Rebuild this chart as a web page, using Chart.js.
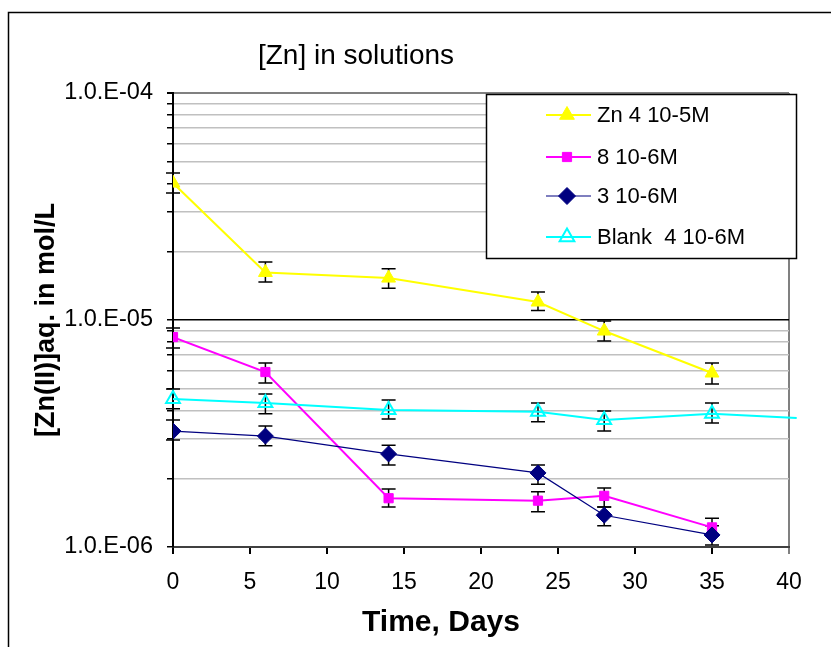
<!DOCTYPE html>
<html>
<head>
<meta charset="utf-8">
<script src="https://cdn.jsdelivr.net/npm/chart.js@4"></script>
<style>
  html, body { margin: 0; padding: 0; background: #fff; }
  canvas { display: block; }
</style>
</head>
<body>
<canvas id="zn" width="831" height="647"></canvas>
<script>
const days = [0, 6, 14, 23.7, 28, 35];
const blankDays = [0, 6, 14, 23.7, 28, 35, 40.5];

const zn4Values = [4.01e-5, 1.62e-5, 1.53e-5, 1.20e-5, 8.94e-6, 5.84e-6];
const zn4High = [4.44e-5, 1.80e-5, 1.68e-5, 1.33e-5, 9.9e-6, 6.46e-6];
const zn4Low = [3.63e-5, 1.47e-5, 1.38e-5, 1.10e-5, 8.08e-6, 5.22e-6];

const zn8Values = [8.41e-6, 5.90e-6, 1.64e-6, 1.60e-6, 1.68e-6, 1.22e-6];
const zn8High = [9.22e-6, 6.46e-6, 1.80e-6, 1.75e-6, 1.82e-6, 1.34e-6];
const zn8Low = [7.53e-6, 5.28e-6, 1.50e-6, 1.43e-6, 1.50e-6, 1.12e-6];

const zn3Values = [3.24e-6, 3.08e-6, 2.57e-6, 2.12e-6, 1.38e-6, 1.13e-6];
const zn3High = [3.63e-6, 3.41e-6, 2.81e-6, 2.30e-6, 1.50e-6, 1.24e-6];
const zn3Low = [2.96e-6, 2.79e-6, 2.30e-6, 1.89e-6, 1.24e-6, 1.02e-6];

const blankValues = [4.49e-6, 4.31e-6, 4.01e-6, 3.94e-6, 3.63e-6, 3.86e-6, 3.70e-6];
const blankHigh = [4.97e-6, 4.72e-6, 4.44e-6, 4.31e-6, 3.97e-6, 4.31e-6];
const blankLow = [4.06e-6, 3.86e-6, 3.66e-6, 3.56e-6, 3.24e-6, 3.52e-6];

const seriesLabels = ["Zn 4 10-5M", "8 10-6M", "3 10-6M", "Blank  4 10-6M"];
const yGridValues = [1e-6, 2e-6, 3e-6, 4e-6, 5e-6, 6e-6, 7e-6, 8e-6, 9e-6,
  1e-5, 2e-5, 3e-5, 4e-5, 5e-5, 6e-5, 7e-5, 8e-5, 9e-5, 1e-4];
const yDecades = [1e-6, 1e-5, 1e-4];
const yDecadeLabels = ["1.0.E-06", "1.0.E-05", "1.0.E-04"];
const xTicks = [0, 5, 10, 15, 20, 25, 30, 35, 40];

const FONT = "'Liberation Sans', Arial, sans-serif";
Chart.defaults.font.family = FONT;
Chart.defaults.color = "#000";

const errorSets = [
  { high: zn4High, low: zn4Low },
  { high: zn8High, low: zn8Low },
  { high: zn3High, low: zn3Low },
  { high: blankHigh, low: blankLow }
];

function points(xs, ys) {
  return ys.map((v, i) => ({ x: xs[i], y: v }));
}

const frame = {
  id: "frame",
  beforeDraw(chart) {
    const ctx = chart.ctx;
    ctx.save();
    ctx.fillStyle = "#fff";
    ctx.fillRect(0, 0, chart.width, chart.height);
    ctx.strokeStyle = "#000";
    ctx.lineWidth = 1.5;
    ctx.beginPath();
    ctx.moveTo(8.5, chart.height);
    ctx.lineTo(8.5, 12.5);
    ctx.lineTo(chart.width, 12.5);
    ctx.stroke();
    ctx.restore();
  }
};

const errorBars = {
  id: "errorBars",
  beforeDatasetsDraw(chart) {
    const { ctx, scales: { x, y } } = chart;
    ctx.save();
    ctx.strokeStyle = "#000";
    ctx.lineWidth = 1.5;
    errorSets.forEach((set) => {
      set.high.forEach((hi, i) => {
        const px = x.getPixelForValue(days[i]);
        const top = y.getPixelForValue(hi);
        const bot = y.getPixelForValue(set.low[i]);
        ctx.beginPath();
        ctx.moveTo(px, top); ctx.lineTo(px, bot);
        ctx.moveTo(px - 7, top); ctx.lineTo(px + 7, top);
        ctx.moveTo(px - 7, bot); ctx.lineTo(px + 7, bot);
        ctx.stroke();
      });
    });
    ctx.restore();
  }
};

const texts = {
  id: "texts",
  afterDraw(chart) {
    const { ctx, chartArea } = chart;
    ctx.save();
    ctx.fillStyle = "#000";
    ctx.textAlign = "center";
    ctx.textBaseline = "middle";
    ctx.font = "28px " + FONT;
    ctx.fillText("[Zn] in solutions", 356, 56);
    ctx.font = "bold 30px " + FONT;
    ctx.fillText("Time, Days", 441, 623);
    ctx.translate(47, (chartArea.top + chartArea.bottom) / 2);
    ctx.rotate(-Math.PI / 2);
    ctx.font = "bold 27px " + FONT;
    ctx.fillText("[Zn(II)]aq. in mol/L", 0, 0);
    ctx.restore();

    // legend box
    ctx.save();
    ctx.fillStyle = "#fff";
    ctx.fillRect(486, 94, 311, 165);
    ctx.strokeStyle = "#000";
    ctx.lineWidth = 1.5;
    ctx.strokeRect(486.5, 94.5, 310, 164);
    const rows = [115, 157, 196, 237];
    chart.data.datasets.forEach((ds, i) => {
      const ry = rows[i];
      ctx.strokeStyle = ds.borderColor;
      ctx.lineWidth = ds.borderWidth;
      ctx.beginPath();
      ctx.moveTo(546, ry); ctx.lineTo(591, ry);
      ctx.stroke();
      ctx.fillStyle = ds.pointBackgroundColor;
      ctx.strokeStyle = ds.pointBorderColor;
      ctx.lineWidth = ds.pointBorderWidth;
      Chart.helpers.drawPoint(ctx, {
        pointStyle: ds.pointStyle,
        radius: ds.legendRadius,
        rotation: 0,
        borderWidth: ds.pointBorderWidth
      }, 567, ry);
      ctx.fillStyle = "#000";
      ctx.font = "22px " + FONT;
      ctx.textAlign = "left";
      ctx.textBaseline = "middle";
      ctx.fillText(seriesLabels[i], 597, ry + 1);
    });
    ctx.restore();
  }
};

new Chart(document.getElementById("zn"), {
  type: "line",
  data: {
    datasets: [
      {
        label: seriesLabels[0],
        data: points(days, zn4Values),
        borderColor: "#ffff00",
        borderWidth: 2,
        pointStyle: "triangle",
        pointRadius: 8,
        legendRadius: 8.5,
        pointBackgroundColor: "#ffff00",
        pointBorderColor: "#ffff00",
        pointBorderWidth: 1,
        order: 3
      },
      {
        label: seriesLabels[1],
        data: points(days, zn8Values),
        borderColor: "#ff00ff",
        borderWidth: 2,
        pointStyle: "rect",
        pointRadius: 6.5,
        legendRadius: 6.5,
        pointBackgroundColor: "#ff00ff",
        pointBorderColor: "#ff00ff",
        pointBorderWidth: 1,
        order: 2
      },
      {
        label: seriesLabels[2],
        data: points(days, zn3Values),
        borderColor: "#000080",
        borderWidth: 1.2,
        pointStyle: "rectRot",
        pointRadius: 8,
        legendRadius: 8.5,
        pointBackgroundColor: "#000080",
        pointBorderColor: "#000080",
        pointBorderWidth: 1,
        order: 1
      },
      {
        label: seriesLabels[3],
        data: points(blankDays, blankValues),
        borderColor: "#00ffff",
        borderWidth: 2,
        pointStyle: "triangle",
        pointRadius: [8, 8, 8, 8, 8, 8, 0],
        legendRadius: 8.5,
        pointBackgroundColor: "rgba(0,0,0,0)",
        pointBorderColor: "#00ffff",
        pointBorderWidth: 2,
        clip: false,
        order: 0
      }
    ]
  },
  options: {
    responsive: false,
    animation: false,
    layout: { padding: { top: 93, right: 42, left: 0, bottom: 0 } },
    plugins: { legend: { display: false }, tooltip: { enabled: false } },
    elements: { line: { tension: 0 } },
    scales: {
      x: {
        type: "linear",
        min: 0,
        max: 40,
        afterFit: (s) => { s.height = 100; },
        afterBuildTicks: (s) => { s.ticks = xTicks.map((v) => ({ value: v })); },
        ticks: { font: { size: 23 }, padding: 15, maxRotation: 0 },
        grid: {
          color: (c) => (c.tick && c.tick.value === 40 ? "#808080" : "rgba(0,0,0,0)"),
          lineWidth: 2,
          tickColor: (c) => (c.tick && c.tick.value === 40 ? "#808080" : "#000"),
          tickLength: 7
        },
        border: { color: "#404040", width: 2 }
      },
      y: {
        type: "logarithmic",
        min: 1e-6,
        max: 1e-4,
        afterFit: (s) => { s.width = 173; },
        afterBuildTicks: (s) => { s.ticks = yGridValues.map((v) => ({ value: v, major: yDecades.includes(v) })); },
        ticks: {
          autoSkip: false,
          font: { size: 23.5 },
          padding: 14,
          callback: (v) => {
            const k = yDecades.indexOf(v);
            return k >= 0 ? yDecadeLabels[k] : "";
          }
        },
        grid: {
          color: (c) => {
            const v = c.tick && c.tick.value;
            if (v === 1e-5) return "#000";
            if (v === 1e-4) return "#808080";
            if (v === 1e-6) return "#404040";
            return "#c0c0c0";
          },
          lineWidth: (c) => (c.tick && c.tick.value === 1e-4 ? 2 : 1.5),
          tickColor: "#000",
          tickLength: 6
        },
        border: { color: "#000", width: 2 }
      }
    }
  },
  plugins: [frame, errorBars, texts]
});
</script>
</body>
</html>
